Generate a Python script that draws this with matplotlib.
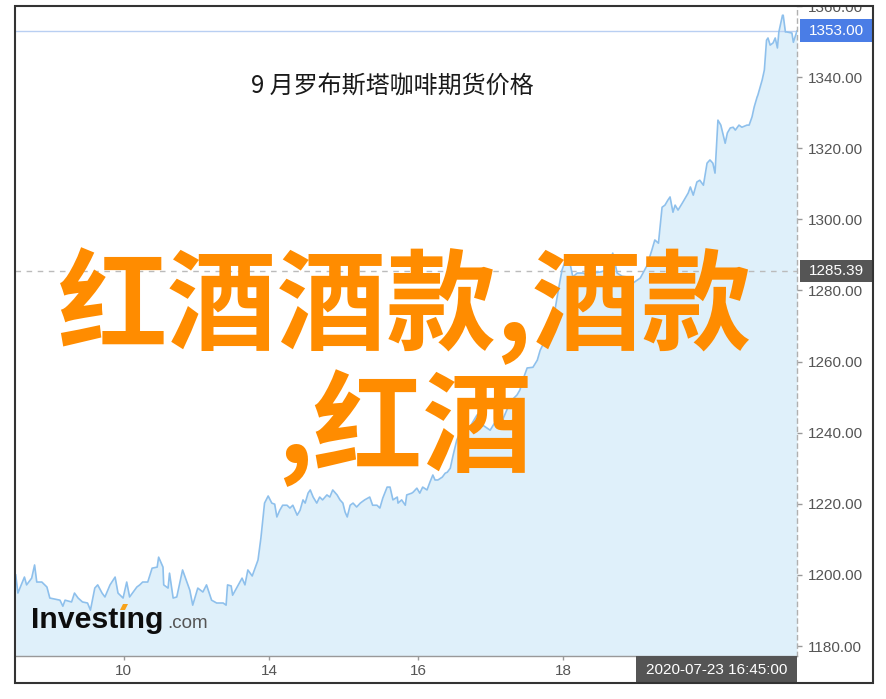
import matplotlib
matplotlib.use("Agg")
import matplotlib.pyplot as plt
from matplotlib.patches import Rectangle, Polygon
from matplotlib.transforms import blended_transform_factory
import numpy as np

# ---------------- data ----------------
# time in trading days relative to July 10 (tick "10" = 0)
days = [
    -1.49, -1.46, -1.37, -1.34, -1.27, -1.23, -1.20, -1.13, -1.06, -1.02,
    -0.88, -0.84, -0.81, -0.72, -0.68, -0.63, -0.57, -0.50, -0.46, -0.40,
    -0.36, -0.30, -0.26, -0.19, -0.12, -0.08, -0.01, 0.04, 0.08, 0.18,
    0.22, 0.26, 0.33, 0.39, 0.46, 0.48, 0.54, 0.55, 0.61, 0.63,
    0.68, 0.73, 0.81, 0.91, 0.95, 1.02, 1.09, 1.14, 1.21, 1.28,
    1.37, 1.41, 1.43, 1.48, 1.50, 1.63, 1.67, 1.71, 1.77, 1.85,
    1.89, 1.94, 1.99, 2.04, 2.08, 2.11, 2.15, 2.19,
    2.25, 2.29, 2.33, 2.39, 2.43, 2.47, 2.50, 2.54, 2.57, 2.61,
    2.66, 2.70, 2.74, 2.80, 2.84, 2.88, 2.94, 2.98, 3.02, 3.05,
    3.08, 3.12, 3.16, 3.21, 3.26, 3.32, 3.39, 3.43, 3.49, 3.53,
    3.57, 3.63, 3.67, 3.71, 3.77, 3.78, 3.83, 3.88, 3.90, 3.97,
    3.99, 4.04, 4.08, 4.12, 4.18, 4.22, 4.26, 4.29, 4.33, 4.39,
    4.43, 4.46, 4.50, 4.54, 4.59, 4.63, 4.70, 4.77, 4.87, 4.95,
    5.05, 5.12, 5.19, 5.28, 5.35, 5.42, 5.46, 5.50, 5.56, 5.64,
    5.70, 5.74, 5.83, 5.92, 5.99, 6.04, 6.08, 6.15, 6.19, 6.25,
    6.33, 6.40, 6.47, 6.57, 6.66, 6.74, 6.80, 6.87, 6.94, 7.02,
    7.12, 7.21, 7.28, 7.32, 7.37, 7.42, 7.46, 7.50, 7.53, 7.57,
    7.60, 7.64, 7.70, 7.78, 7.81, 7.85, 7.90, 7.94, 7.99, 8.04,
    8.08, 8.12, 8.15, 8.19, 8.23, 8.29, 8.32, 8.36, 8.40, 8.43,
    8.48, 8.52, 8.59, 8.62, 8.66, 8.69, 8.73, 8.74, 8.80, 8.83,
    8.86, 8.88, 8.91, 8.95, 8.98, 9.01, 9.03, 9.08, 9.09, 9.12,
    9.14, 9.21, 9.23, 9.28,
]
price = [
    1200.0, 1194.9, 1199.4, 1197.2, 1199.1, 1202.8, 1198.0, 1198.0, 1196.6, 1193.5,
    1192.9, 1191.2, 1192.9, 1192.4, 1194.9, 1193.5, 1192.4, 1192.1, 1190.1, 1196.3,
    1197.2, 1194.9, 1193.8, 1197.2, 1199.4, 1194.9, 1193.5, 1198.0, 1193.8, 1196.6,
    1197.2, 1198.0, 1198.0, 1201.9, 1202.2, 1205.0, 1202.2, 1197.2, 1196.3, 1200.5,
    1193.5, 1193.8, 1201.4, 1195.7, 1191.5, 1196.3, 1195.2, 1197.2, 1192.9, 1192.1,
    1192.1, 1191.5, 1197.2, 1196.9, 1194.3, 1199.1, 1197.2, 1201.4, 1199.7, 1204.2,
    1210.4, 1220.2, 1222.2, 1220.2, 1219.9, 1216.3, 1218.2, 1219.6,
    1219.6, 1218.8, 1219.6, 1216.8, 1218.2, 1221.1, 1220.2, 1223.0, 1223.9, 1221.9,
    1220.2, 1221.9, 1221.1, 1222.5, 1221.9, 1223.9, 1222.5, 1221.1, 1220.2, 1217.7,
    1216.3, 1219.6, 1220.2, 1219.1, 1220.2, 1221.1, 1221.9, 1219.6, 1219.6, 1218.8,
    1221.6, 1224.7, 1224.7, 1221.1, 1221.9, 1220.2, 1221.1, 1219.6, 1222.5, 1223.0,
    1223.3, 1224.4, 1223.0, 1224.7, 1223.9, 1226.1, 1228.1, 1226.7, 1226.7, 1227.5,
    1228.6, 1228.9, 1230.0, 1233.7, 1237.9, 1239.9, 1239.3, 1241.6, 1245.0, 1242.1,
    1240.7, 1243.0, 1242.1, 1246.4, 1249.2, 1250.6, 1252.0, 1254.8, 1258.2, 1258.4,
    1260.4, 1263.2, 1266.9, 1271.7, 1280.1, 1285.7, 1288.0, 1287.7, 1283.8, 1284.9,
    1284.9, 1284.3, 1284.9, 1285.2, 1285.7, 1290.5, 1284.9, 1284.0, 1283.8, 1282.1,
    1283.5, 1286.9, 1291.4, 1294.2, 1293.3, 1303.4, 1304.0, 1305.4, 1306.3, 1302.0,
    1304.0, 1302.6, 1304.6, 1307.4, 1309.1, 1306.8, 1310.5, 1311.0, 1309.6, 1315.8,
    1316.7, 1315.8, 1313.0, 1327.9, 1326.5, 1321.4, 1324.3, 1325.7, 1325.9, 1325.1,
    1326.5, 1325.9, 1326.5, 1326.5, 1328.8, 1331.6, 1334.4, 1334.9, 1339.2, 1342.0,
    1350.4, 1351.0, 1349.0, 1349.6, 1351.0, 1348.2, 1352.7, 1357.4, 1357.4, 1352.7,
    1352.7, 1352.4, 1349.8, 1353.0,
]
x_tick_pos = [0, 2, 4.06, 6.06]
x_tick_labels = ["10", "14", "16", "18"]
y_ticks = [1180, 1200, 1220, 1240, 1260, 1280, 1300, 1320, 1340, 1360]
last_price = 1353.00
marked_price = 1285.39
last_time_label = "2020-07-23 16:45:00"
title = "9 月罗布斯塔咖啡期货价格"
overlay_line1 = "红酒酒款,酒款"
overlay_line2 = ",红酒"

# ---------------- figure ----------------
W, H = 886, 699
fig = plt.figure(figsize=(W / 100, H / 100), dpi=100)
fig.patch.set_facecolor("white")

def fx(px):
    return px / W

def fy(py):
    return 1 - py / H

ax = fig.add_axes([fx(15), fy(656), fx(797) - fx(15), fy(6) - fy(656)])
ax.set_facecolor("white")
ymin, ymax = 1177.2, 1360.0
ax.set_xlim(-1.50, 9.28)
ax.set_ylim(ymin, ymax)

ax.fill_between(days, price, ymin, color="#dff0fa", lw=0, zorder=1)
ax.plot(days, price, color="#8ec0ec", lw=1.2, zorder=3)

ax.axhline(last_price, color="#b9cff2", lw=1.0, zorder=2)
ax.axhline(marked_price, color="#bbbbbb", lw=1.0, ls=(0, (4, 4)), zorder=2)

for s in ["top", "left"]:
    ax.spines[s].set_visible(False)
ax.spines["bottom"].set_color("#999999")
ax.spines["bottom"].set_linewidth(1.0)
ax.spines["right"].set_color("#b0b0b0")
ax.spines["right"].set_linewidth(1.0)
ax.spines["right"].set_linestyle((0, (3, 3)))

ax.yaxis.tick_right()
ax.set_yticks(y_ticks)
ax.set_yticklabels([f"{v:.2f}" for v in y_ticks])
ax.tick_params(axis="y", which="both", length=3.6, width=1, color="#999999",
               pad=4.5, labelsize=11, labelcolor="#555555", left=False, right=True)
ax.set_xticks(x_tick_pos)
ax.set_xticklabels(x_tick_labels)
ax.tick_params(axis="x", length=3, width=1, color="#999999", pad=3,
               labelsize=11, labelcolor="#555555")
for lab in ax.get_xticklabels() + ax.get_yticklabels():
    lab.set_fontfamily(["Liberation Sans", "DejaVu Sans"])

# price boxes on the right axis
bt = blended_transform_factory(ax.transAxes, ax.transData)
ax_w_px = 797 - 15
bx0 = (800 - 15) / ax_w_px
bw = 73 / ax_w_px
ax.add_patch(Rectangle((bx0, last_price - 3.2), bw, 6.5, transform=bt,
                       facecolor="#4a7de6", edgecolor="none", clip_on=False, zorder=5))
ax.text(bx0 + bw / 2, last_price, f"{last_price:.2f}", transform=bt, ha="center",
        va="center", color="white", fontsize=11, family=["Liberation Sans"],
        clip_on=False, zorder=6)
ax.add_patch(Rectangle((bx0, marked_price - 3.1), bw, 6.2, transform=bt,
                       facecolor="#555555", edgecolor="none", clip_on=False, zorder=5))
ax.text(bx0 + bw / 2, marked_price, f"{marked_price:.2f}", transform=bt, ha="center",
        va="center", color="white", fontsize=11, family=["Liberation Sans"],
        clip_on=False, zorder=6)

# date box below the x axis
ax.add_patch(Rectangle(((636 - 15) / ax_w_px, -27 / 650), (797 - 636) / ax_w_px, 27 / 650,
                       transform=ax.transAxes, facecolor="#555555", edgecolor="none",
                       clip_on=False, zorder=5))
ax.text(((636 + 797) / 2 - 15) / ax_w_px, -13.5 / 650, last_time_label,
        transform=ax.transAxes, ha="center", va="center", color="white",
        fontsize=11, family=["Liberation Sans"], clip_on=False, zorder=6)

# title
fig.text(fx(392), fy(86), title, ha="center", va="center", fontsize=17.3,
         color="#1a1a1a", family=["Noto Sans CJK SC", "DejaVu Sans"])

# Investing.com logo
fig.text(fx(31), fy(628), "Investıng", ha="left", va="baseline", fontsize=21.8,
         fontweight="bold", color="#0d0d0d", family=["Liberation Sans", "DejaVu Sans"])
fig.text(fx(167), fy(628), ".com", ha="left", va="baseline", fontsize=13.5,
         color="#555555", family=["Liberation Sans", "DejaVu Sans"])
fig.patches.append(Polygon([[fx(120), fy(610)], [fx(125), fy(610)], [fx(128), fy(604)],
                            [fx(123), fy(604)]], closed=True, transform=fig.transFigure,
                           facecolor="#f7a21b", edgecolor="none", zorder=4))

# big orange overlay text
fig.text(fx(405), fy(306), overlay_line1, ha="center", va="center", fontsize=79,
         fontweight="bold", color="#ff8c00", family=["Noto Sans CJK SC", "DejaVu Sans"],
         zorder=20)
fig.text(fx(405), fy(428), overlay_line2, ha="center", va="center", fontsize=79,
         fontweight="bold", color="#ff8c00", family=["Noto Sans CJK SC", "DejaVu Sans"],
         zorder=20)

# white strip above the frame (clips the top tick label) and the outer frame
fig.patches.append(Rectangle((0, fy(6)), 1, 1 - fy(6), transform=fig.transFigure,
                             facecolor="white", edgecolor="none", zorder=9))
fig.patches.append(Rectangle((fx(15), fy(683)), fx(873) - fx(15), fy(6) - fy(683),
                             transform=fig.transFigure, fill=False,
                             edgecolor="#333333", lw=1.5, zorder=10))

fig.savefig("out.png", dpi=100, facecolor="white")
